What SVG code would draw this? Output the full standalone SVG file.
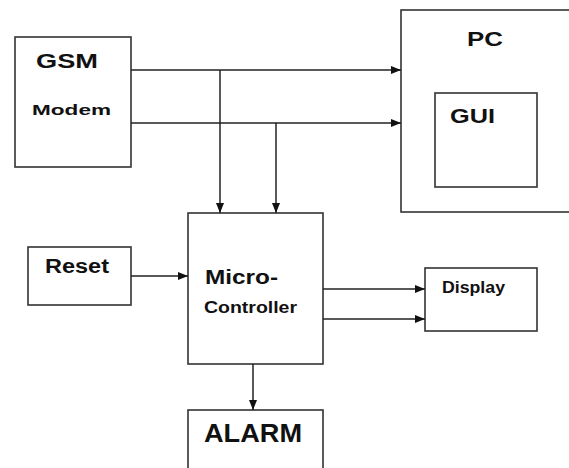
<svg xmlns="http://www.w3.org/2000/svg" width="569" height="468" viewBox="0 0 569 468">
<style>
.box{fill:#fff;stroke:#333;stroke-width:1.6}
.ln{fill:none;stroke:#222;stroke-width:1.5}
.t{font-family:"Liberation Sans",Arial,sans-serif;font-weight:bold;fill:#111}
</style>
<defs>
<marker id="ah" markerWidth="10" markerHeight="8" refX="10" refY="4" orient="auto" markerUnits="userSpaceOnUse">
<path d="M0,0 L10,4 L0,8 Z" fill="#111"/>
</marker>
</defs>
<rect width="569" height="468" fill="#fff"/>
<g id="gsm"><rect class="box" x="15" y="37" width="116" height="130"/>
<text class="t" x="36" y="68" font-size="21" textLength="62" lengthAdjust="spacingAndGlyphs">GSM</text>
<text class="t" x="32" y="115" font-size="15" textLength="79" lengthAdjust="spacingAndGlyphs">Modem</text></g>
<g id="pc"><rect class="box" x="401" y="10" width="180" height="202"/>
<text class="t" x="467" y="46" font-size="20" textLength="36" lengthAdjust="spacingAndGlyphs">PC</text></g>
<g id="gui"><rect class="box" x="435" y="93" width="102" height="94"/>
<text class="t" x="450" y="123" font-size="20" textLength="45" lengthAdjust="spacingAndGlyphs">GUI</text></g>
<g id="reset"><rect class="box" x="28" y="247" width="103" height="58"/>
<text class="t" x="45" y="273" font-size="20" textLength="64" lengthAdjust="spacingAndGlyphs">Reset</text></g>
<g id="micro"><rect class="box" x="188" y="213" width="135" height="151"/>
<text class="t" x="205" y="284" font-size="21" textLength="73" lengthAdjust="spacingAndGlyphs">Micro-</text>
<text class="t" x="204" y="313" font-size="16" textLength="93" lengthAdjust="spacingAndGlyphs">Controller</text></g>
<g id="display"><rect class="box" x="425" y="268" width="112" height="63"/>
<text class="t" x="442" y="293" font-size="16" textLength="63" lengthAdjust="spacingAndGlyphs">Display</text></g>
<g id="alarm"><rect class="box" x="188" y="410" width="135" height="70"/>
<text class="t" x="204" y="442" font-size="25" textLength="98" lengthAdjust="spacingAndGlyphs">ALARM</text></g>
<g id="connectors">
<line class="ln" x1="131" y1="70" x2="401" y2="70" marker-end="url(#ah)"/>
<line class="ln" x1="131" y1="123" x2="401" y2="123" marker-end="url(#ah)"/>
<line class="ln" x1="220" y1="70" x2="220" y2="213" marker-end="url(#ah)"/>
<line class="ln" x1="276" y1="123" x2="276" y2="213" marker-end="url(#ah)"/>
<line class="ln" x1="131" y1="276" x2="188" y2="276" marker-end="url(#ah)"/>
<line class="ln" x1="323" y1="289" x2="425" y2="289" marker-end="url(#ah)"/>
<line class="ln" x1="323" y1="319" x2="425" y2="319" marker-end="url(#ah)"/>
<line class="ln" x1="253" y1="364" x2="253" y2="410" marker-end="url(#ah)"/>
</g>
</svg>
